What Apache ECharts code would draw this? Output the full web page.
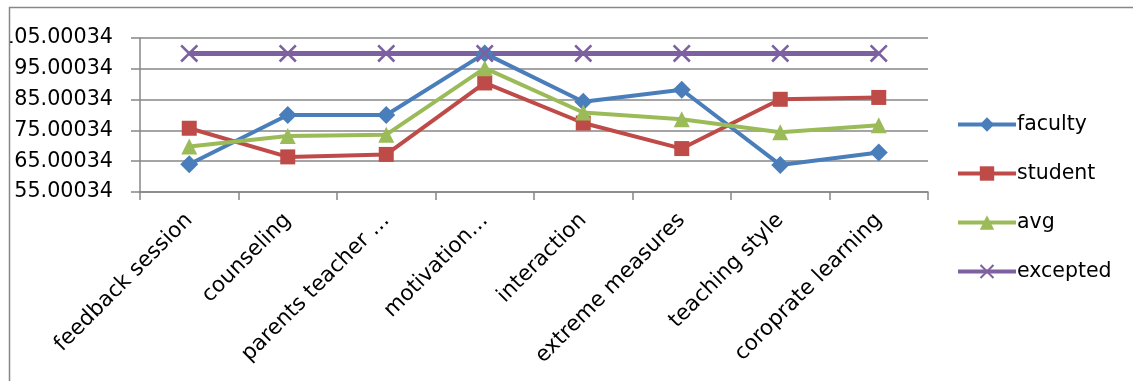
<!DOCTYPE html>
<html>
<head>
<meta charset="utf-8">
<script src="https://cdn.jsdelivr.net/npm/echarts@6/dist/echarts.min.js"></script>
<style>
html,body{margin:0;padding:0;background:#fff;}
#chart{width:1133px;height:381px;}
</style>
</head>
<body>
<div id="chart"></div>
<script>
const categories = ['feedback session','counseling','parents teacher …','motivation…','interaction','extreme measures','teaching style','coroprate learning'];
const faculty  = [64, 80, 80, 100, 84.3, 88.2, 63.8, 67.8];
const student  = [75.7, 66.4, 67.2, 90.4, 77.4, 69.1, 85.1, 85.7];
const avg      = [69.8, 73.2, 73.6, 95.2, 80.8, 78.6, 74.4, 76.7];
const excepted = [100, 100, 100, 100, 100, 100, 100, 100];
const yTickLabels = ['55.00034','65.00034','75.00034','85.00034','95.00034','105.00034'];

const FONT = '"DejaVu Sans", sans-serif';
const GRID_COLOR = '#878787';
const xSymbol = 'path://M0,1L1,0L10,9L9,10Z M9,0L10,1L1,10L0,9Z';

const chart = echarts.init(document.getElementById('chart'), null, {renderer:'canvas'});
function mk(name, data, color, symbol, size, width) {
  return {
    name, type:'line', data, symbol, symbolSize:size,
    lineStyle:{color, width:width},
    itemStyle:{color, borderWidth:0},
    emphasis:{disabled:true},
    animation:false
  };
}
chart.setOption({
  animation:false,
  textStyle:{fontFamily:FONT},
  grid:{left:140, right:205, top:38, bottom:189, containLabel:false, outerBoundsMode:'none'},
  xAxis:{
    type:'category', data:categories, boundaryGap:true,
    axisLine:{lineStyle:{color:GRID_COLOR, width:1.5}},
    axisTick:{show:true, length:8, alignWithLabel:false, lineStyle:{color:GRID_COLOR, width:1.5}},
    axisLabel:{rotate:45, margin:25, fontSize:21.5, color:'#000', fontFamily:FONT, interval:0}
  },
  yAxis:{
    type:'value', min:55, max:105, interval:10,
    axisLine:{show:true, lineStyle:{color:GRID_COLOR, width:1.5}},
    axisTick:{show:true, length:9, lineStyle:{color:GRID_COLOR, width:1.5}},
    splitLine:{show:true, lineStyle:{color:GRID_COLOR, width:1.5}},
    axisLabel:{margin:27, fontSize:20.7, color:'#000', fontFamily:FONT,
      formatter:function(v, i){ return yTickLabels[i]; }}
  },
  legend:{
    orient:'vertical', left:951, top:109, itemGap:28,
    itemWidth:58, itemHeight:18,
    lineStyle:{width:4},
    textStyle:{fontSize:20.5, color:'#000', fontFamily:FONT, padding:[0,0,0,-4]},
    data:['faculty','student','avg','excepted']
  },
  graphic:[
    {type:'rect', left:0, top:0, z:100, shape:{x:0,y:0,width:9,height:381}, style:{fill:'#fff'}},
    {type:'rect', z:101, shape:{x:9.5,y:7.5,width:1200,height:500}, style:{fill:'none', stroke:GRID_COLOR, lineWidth:1.5}}
  ],
  series:[
    mk('faculty', faculty, '#4A7EBB', 'diamond', 18, 4),
    mk('student', student, '#BE4B48', 'rect', 15, 4),
    mk('avg', avg, '#9BBB59', 'triangle', 16, 4),
    mk('excepted', excepted, '#7D60A0', xSymbol, 18, 5)
  ]
});
</script>
</body>
</html>
